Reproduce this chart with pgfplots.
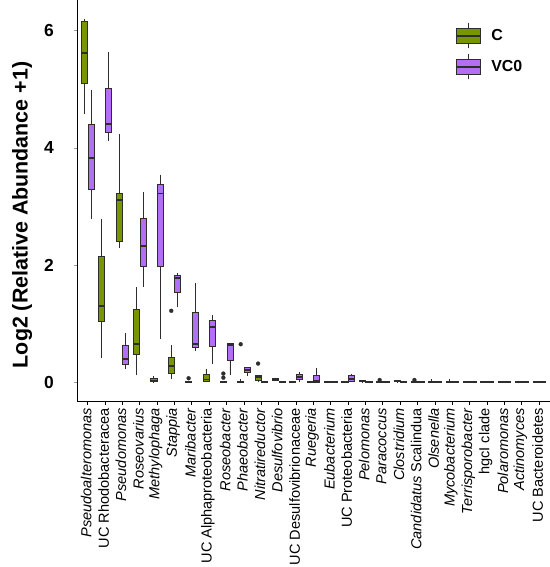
\documentclass[border=0pt]{standalone}
\usepackage{fontspec}
\setmainfont{Liberation Sans}
\usepackage{pgfplots}
\pgfplotsset{compat=1.18}
\usepgfplotslibrary{statistics}
\definecolor{cC}{RGB}{120,150,0}
\definecolor{cV}{RGB}{178,110,245}
\definecolor{edge}{RGB}{45,45,45}
\pgfplotsset{
  bxs/.style={draw=edge, line width=0.8bp, mark=*, mark size=2bp,
    mark options={fill=edge, draw=edge, line width=0.2bp, solid},
    boxplot/draw direction=y,
    boxplot/box extend=0.35, boxplot/whisker extend=0,
    boxplot/every median/.style={line width=1.8bp}},
}
% position, fill, lw, lq, med, uq, uw, outliers
\newcommand{\bx}[8]{\addplot[bxs, fill=#2, boxplot prepared={draw position=#1, lower whisker=#3, lower quartile=#4, median=#5, upper quartile=#6, upper whisker=#7}] coordinates {#8};}
\begin{document}
\begin{tikzpicture}
\begin{axis}[name=ax,
  scale only axis, width=472.4bp, height=401.7bp,
  xmin=0.4, xmax=27.6, ymin=-0.33, ymax=6.52,
  axis x line=bottom, axis y line=left,
  axis line style={-, black, line width=1.3bp},
  tick align=outside, major tick length=3bp,
  xtick={1,...,27},
  x tick style={black, line width=1bp},
  y tick style={black!40, line width=0.5bp},
  ytick={0,2,4,6},
  /pgf/number format/assume math mode=true,
  yticklabel style={font=\bfseries\fontsize{17.5}{18}\selectfont, xshift=-17bp},
  xticklabel style={rotate=90, anchor=east, font=\fontsize{14.6}{16}\selectfont, yshift=1.5bp},
  xticklabels={{\textit{Pseudoalteromonas}}, {UC Rhodobacteracea}, {\textit{Pseudomonas}}, {\textit{Roseovarius}}, {\textit{Methylophaga}}, {\textit{Stappia}}, {\textit{Maribacter}}, {UC Alphaproteobacteria}, {\textit{Roseobacter}}, {\textit{Phaeobacter}}, {\textit{Nitratireductor}}, {\textit{Desulfovibrio}}, {UC Desulfovibrionaceae}, {\textit{Ruegeria}}, {\textit{Eubacterium}}, {UC Proteobacteria}, {\textit{Pelomonas}}, {\textit{Paracoccus}}, {\textit{Clostridium}}, {\textit{Candidatus} Scalindua}, {\textit{Olsenella}}, {\textit{Mycobacterium}}, {\textit{Terrisporobacter}}, {hgcI clade}, {\textit{Polaromonas}}, {\textit{Actinomyces}}, {UC Bacteroidetes}},
  ylabel={Log2 (Relative Abundance +1)},
  ylabel style={font=\bfseries\fontsize{21.5}{22}\selectfont, at={(axis description cs:-0.117,0.465)}, anchor=center},
  legend image code/.code={
    \draw[edge, line width=0.8bp] (11.8bp,-12.5bp) -- (11.8bp,12.5bp);
    \draw[#1, draw=edge, line width=0.8bp] (0bp,-7.5bp) rectangle (23.6bp,7.5bp);
    \draw[edge, line width=1.8bp] (0bp,0bp) -- (23.6bp,0bp);
  },
  legend style={at={(axis description cs:0.801,0.943)}, anchor=north west, draw=none, fill=none,
    font=\bfseries\fontsize{16}{17}\selectfont, inner sep=0pt, row sep=5bp, column sep=10bp,
    nodes={inner sep=0pt}},
  legend cell align=left,
  clip=false,
]
\addlegendimage{fill=cC}
\addlegendentry{C}
\addlegendimage{fill=cV}
\addlegendentry{VC0}
% 1 Pseudoalteromonas
\bx{0.81}{cC}{4.57}{5.10}{5.62}{6.16}{6.20}{}
\bx{1.19}{cV}{2.78}{3.29}{3.83}{4.40}{4.98}{}
% 2 UC Rhodobacteracea
\bx{1.81}{cC}{0.41}{1.04}{1.30}{2.14}{2.79}{}
\bx{2.19}{cV}{4.11}{4.26}{4.41}{5.02}{5.64}{}
% 3 Pseudomonas
\bx{2.81}{cC}{2.29}{2.41}{3.11}{3.22}{4.23}{}
\bx{3.19}{cV}{0.22}{0.31}{0.40}{0.63}{0.85}{}
% 4 Roseovarius
\bx{3.81}{cC}{0.12}{0.47}{0.65}{1.25}{1.62}{}
\bx{4.19}{cV}{1.62}{1.97}{2.33}{2.79}{3.25}{}
% 5 Methylophaga
\bx{4.81}{cC}{0}{0.01}{0.03}{0.06}{0.11}{}
\bx{5.19}{cV}{0.74}{1.98}{3.22}{3.38}{3.53}{}
% 6 Stappia
\bx{5.81}{cC}{0.05}{0.15}{0.28}{0.42}{0.64}{(5.81,1.22)}
\bx{6.19}{cV}{1.29}{1.53}{1.78}{1.83}{1.86}{}
% 7 Maribacter
\bx{6.81}{cC}{0}{0}{0.01}{0.02}{0.02}{(6.81,0.07)}
\bx{7.19}{cV}{0.54}{0.60}{0.66}{1.19}{1.70}{}
% 8 UC Alphaproteobacteria
\bx{7.81}{cC}{0}{0.02}{0.05}{0.14}{0.23}{}
\bx{8.19}{cV}{0.31}{0.62}{0.95}{1.06}{1.15}{}
% 9 Roseobacter
\bx{8.81}{cC}{0}{0}{0.01}{0.02}{0.03}{(8.81,0.08) (8.81,0.15)}
\bx{9.19}{cV}{0.12}{0.37}{0.64}{0.66}{0.67}{}
% 10 Phaeobacter
\bx{9.81}{cC}{0}{0}{0.005}{0.02}{0.05}{(9.81,0.65)}
\bx{10.19}{cV}{0.11}{0.17}{0.21}{0.26}{0.26}{}
% 11 Nitratireductor
\bx{10.81}{cC}{0.01}{0.03}{0.09}{0.12}{0.12}{(10.81,0.32)}
\bx{11.19}{cV}{0}{0}{0.005}{0.01}{0.01}{}
% 12 Desulfovibrio
\bx{11.81}{cC}{0.02}{0.04}{0.05}{0.06}{0.07}{}
\bx{12.19}{cV}{0}{0.005}{0.01}{0.015}{0.02}{}
% 13 UC Desulfovibrionaceae
\bx{12.81}{cC}{0}{0}{0.005}{0.01}{0.01}{}
\bx{13.19}{cV}{0.01}{0.05}{0.09}{0.14}{0.17}{}
% 14 Ruegeria
\bx{13.81}{cC}{0}{0}{0.005}{0.01}{0.01}{}
\bx{14.19}{cV}{0}{0}{0.02}{0.12}{0.24}{}
% 15 Eubacterium
\bx{14.81}{cC}{0}{0}{0.01}{0.02}{0.03}{}
\bx{15.19}{cV}{0}{0}{0.005}{0.01}{0.01}{}
% 16 UC Proteobacteria
\bx{15.81}{cC}{0}{0}{0.005}{0.01}{0.01}{}
\bx{16.19}{cV}{0}{0.02}{0.06}{0.11}{0.15}{}
% 17 Pelomonas
\bx{16.81}{cC}{0}{0.01}{0.02}{0.03}{0.03}{}
\bx{17.19}{cV}{0}{0}{0.01}{0.02}{0.02}{}
% 18 Paracoccus
\bx{17.81}{cC}{0}{0}{0.01}{0.02}{0.02}{(17.81,0.04)}
\bx{18.19}{cV}{0}{0}{0.005}{0.01}{0.01}{}
% 19 Clostridium
\bx{18.81}{cC}{0}{0.01}{0.02}{0.03}{0.03}{}
\bx{19.19}{cV}{0}{0}{0.005}{0.01}{0.01}{}
% 20 Candidatus Scalindua
\bx{19.81}{cC}{0}{0}{0.01}{0.02}{0.02}{(19.81,0.04)}
\bx{20.19}{cV}{0}{0}{0.005}{0.01}{0.01}{}
% 21 Olsenella
\bx{20.81}{cC}{0}{0}{0.01}{0.02}{0.06}{}
\bx{21.19}{cV}{0}{0}{0.005}{0.01}{0.01}{}
% 22 Mycobacterium
\bx{21.81}{cC}{0}{0}{0.01}{0.02}{0.05}{}
\bx{22.19}{cV}{0}{0}{0.005}{0.01}{0.01}{}
% 23 Terrisporobacter
\bx{22.81}{cC}{0}{0}{0.005}{0.01}{0.01}{}
\bx{23.19}{cV}{0}{0}{0.005}{0.01}{0.01}{}
% 24 hgcI clade
\bx{23.81}{cC}{0}{0}{0.005}{0.01}{0.01}{}
\bx{24.19}{cV}{0}{0}{0.005}{0.01}{0.01}{}
% 25 Polaromonas
\bx{24.81}{cC}{0}{0}{0.005}{0.01}{0.01}{}
\bx{25.19}{cV}{0}{0}{0.005}{0.01}{0.01}{}
% 26 Actinomyces
\bx{25.81}{cC}{0}{0}{0.005}{0.01}{0.01}{}
\bx{26.19}{cV}{0}{0}{0.005}{0.01}{0.01}{}
% 27 UC Bacteroidetes
\bx{26.81}{cC}{0}{0}{0.005}{0.01}{0.01}{}
\bx{27.19}{cV}{0}{0}{0.005}{0.01}{0.01}{}
\end{axis}
\pgfresetboundingbox
\path[use as bounding box] (ax.south west) ++(-77.3bp,-165.3bp) rectangle ++(550bp,567bp);
\end{tikzpicture}
\end{document}
